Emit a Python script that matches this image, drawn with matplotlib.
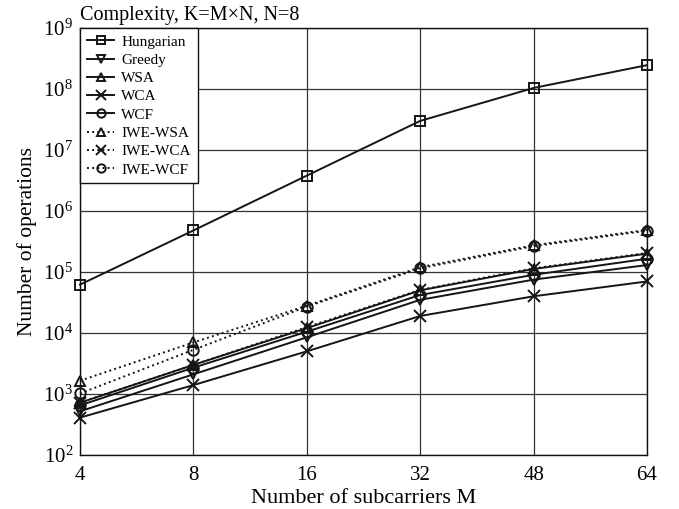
import matplotlib
matplotlib.use("Agg")
import matplotlib.pyplot as plt

plt.rcParams['font.family'] = ['Liberation Serif', 'DejaVu Serif']
plt.rcParams['mathtext.fontset'] = 'stix'

categories = ["4", "8", "16", "32", "48", "64"]
hungarian = [6.2e4, 4.8e5, 3.8e6, 3.0e7, 1.04e8, 2.46e8]
greedy = [520, 2.1e3, 8.5e3, 3.5e4, 7.5e4, 1.3e5]
wsa = [720, 3.0e3, 1.2e4, 5.0e4, 1.12e5, 2.0e5]
wca = [410, 1.4e3, 5.0e3, 1.9e4, 4.0e4, 7.0e4]
wcf = [650, 2.7e3, 1.05e4, 4.2e4, 9.0e4, 1.65e5]
iwe_wsa = [1.65e3, 7.0e3, 2.8e4, 1.2e5, 2.75e5, 4.9e5]
iwe_wca = [720, 3.0e3, 1.25e4, 5.1e4, 1.15e5, 2.05e5]
iwe_wcf = [1.02e3, 5.3e3, 2.7e4, 1.15e5, 2.65e5, 4.75e5]

series = [
    ("Hungarian", hungarian, '-', 's'),
    ("Greedy", greedy, '-', 'v'),
    ("WSA", wsa, '-', '^'),
    ("WCA", wca, '-', 'x'),
    ("WCF", wcf, '-', 'o'),
    ("IWE-WSA", iwe_wsa, ':', '^'),
    ("IWE-WCA", iwe_wca, ':', 'x'),
    ("IWE-WCF", iwe_wcf, ':', 'o'),
]

fig = plt.figure(figsize=(6.79, 5.09), dpi=100)
ax = fig.add_axes([80/679, 1-455/509, (647-80)/679, (455-28)/509])

x = list(range(len(categories)))
for name, vals, ls, mk in series:
    ax.plot(x, vals, linestyle=ls, marker=mk, color='#151515', linewidth=1.4,
            markersize=7.5 if mk != 'x' else 8.5, markerfacecolor='none',
            markeredgewidth=1.4, label=name, clip_on=False, zorder=3)

ax.set_yscale('log')
ax.set_ylim(1e2, 1e9)
ax.set_xlim(0, len(categories) - 1)
ax.set_xticks(x)
ax.set_xticklabels(categories)
ax.set_yticks([10**k for k in range(2, 10)])
ax.yaxis.set_minor_locator(matplotlib.ticker.NullLocator())
ax.tick_params(axis='both', which='major', length=0, labelsize=15)
ax.tick_params(axis='x', pad=8)
ax.tick_params(axis='y', pad=5)
ax.grid(True, which='major', color='#333333', linewidth=0.9)
for s in ax.spines.values():
    s.set_linewidth(1.0)
    s.set_color('#111111')

ax.set_xlabel("Number of subcarriers M", fontsize=16, labelpad=3)
ax.set_ylabel("Number of operations", fontsize=15.5, labelpad=4)
ax.set_title("Complexity, K=M\u00d7N, N=8", fontsize=14.5, loc='left', pad=6)

leg = ax.legend(loc='upper left', fontsize=11, frameon=True, fancybox=False,
                edgecolor='#111111', framealpha=1, borderaxespad=0,
                handlelength=1.8, labelspacing=0.3, borderpad=0.45,
                handletextpad=0.45, markerscale=0.8)
leg.get_frame().set_linewidth(1.0)

fig.savefig("out.png", dpi=100)
